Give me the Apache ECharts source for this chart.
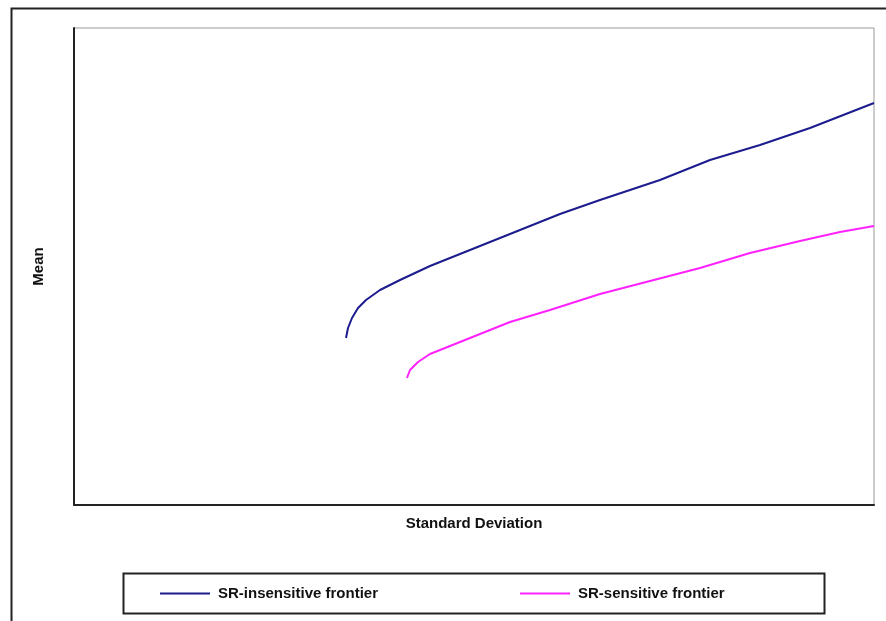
<!DOCTYPE html>
<html>
<head>
<meta charset="utf-8">
<script src="https://cdn.jsdelivr.net/npm/echarts@6/dist/echarts.min.js"></script>
<style>html,body{margin:0;padding:0;background:#fff;}#c{width:886px;height:621px;}</style>
</head>
<body>
<div id="c"></div>
<script>
const seriesNames = ['SR-insensitive frontier', 'SR-sensitive frontier'];
const insensitiveX = [272, 274, 278, 284, 292, 306, 326, 356, 386, 416, 446, 486, 526, 586, 636, 686, 736, 800];
const insensitiveY = [167, 177, 187, 197, 205, 215, 225, 239, 251, 263, 275, 291, 305, 325, 345, 360, 377, 402];
const sensitiveX = [333, 336, 344, 356, 376, 406, 436, 476, 526, 576, 626, 676, 726, 766, 800];
const sensitiveY = [127, 135, 143, 151, 159, 171, 183, 195, 211, 224, 237, 252, 264, 273, 279];
const xTitle = 'Standard Deviation';
const yTitle = 'Mean';

const zip = (xs, ys) => xs.map((x, i) => [x, ys[i]]);
const chart = echarts.init(document.getElementById('c'), null, {renderer: 'canvas'});
const font = 'Liberation Sans, Arial, sans-serif';
const txt = {color: '#111', fontSize: 15, fontWeight: 'bold', fontFamily: font};
chart.setOption({
  animation: false,
  backgroundColor: '#fff',
  grid: {left: 74, top: 28, width: 800, height: 477, show: true, borderColor: '#999', borderWidth: 1, backgroundColor: '#fff'},
  xAxis: {
    type: 'value', min: 0, max: 800,
    name: xTitle, nameLocation: 'middle', nameGap: 11,
    nameTextStyle: txt,
    axisLine: {show: true, onZero: false, lineStyle: {color: '#222', width: 2}},
    axisTick: {show: false}, axisLabel: {show: false}, splitLine: {show: false}
  },
  yAxis: {
    type: 'value', min: 0, max: 477,
    name: yTitle, nameLocation: 'middle', nameGap: 28,
    nameTextStyle: txt,
    axisLine: {show: true, onZero: false, lineStyle: {color: '#222', width: 2}},
    axisTick: {show: false}, axisLabel: {show: false}, splitLine: {show: false}
  },
  legend: [
    {data: [seriesNames[0]], left: 160, top: 586, padding: 0, icon: 'rect', itemWidth: 50, itemHeight: 2, itemGap: 0,
     textStyle: Object.assign({}, txt, {padding: [0, 0, 0, 3]})},
    {data: [seriesNames[1]], left: 520, top: 586, padding: 0, icon: 'rect', itemWidth: 50, itemHeight: 2, itemGap: 0,
     textStyle: Object.assign({}, txt, {padding: [0, 0, 0, 3]})}
  ],
  graphic: [
    {type: 'rect', shape: {x: 11.5, y: 8.5, width: 900, height: 640}, style: {fill: 'none', stroke: '#222', lineWidth: 2}, z: -1},
    {type: 'rect', shape: {x: 123.5, y: 573.5, width: 701, height: 40}, style: {fill: 'none', stroke: '#222', lineWidth: 2}, z: -1}
  ],
  series: [
    {name: seriesNames[0], type: 'line', data: zip(insensitiveX, insensitiveY), symbol: 'none', smooth: false,
     lineStyle: {color: '#1c1c8e', width: 2}, itemStyle: {color: '#1c1c8e'}},
    {name: seriesNames[1], type: 'line', data: zip(sensitiveX, sensitiveY), symbol: 'none', smooth: false,
     lineStyle: {color: '#ff22ff', width: 2}, itemStyle: {color: '#ff22ff'}}
  ]
});
</script>
</body>
</html>
